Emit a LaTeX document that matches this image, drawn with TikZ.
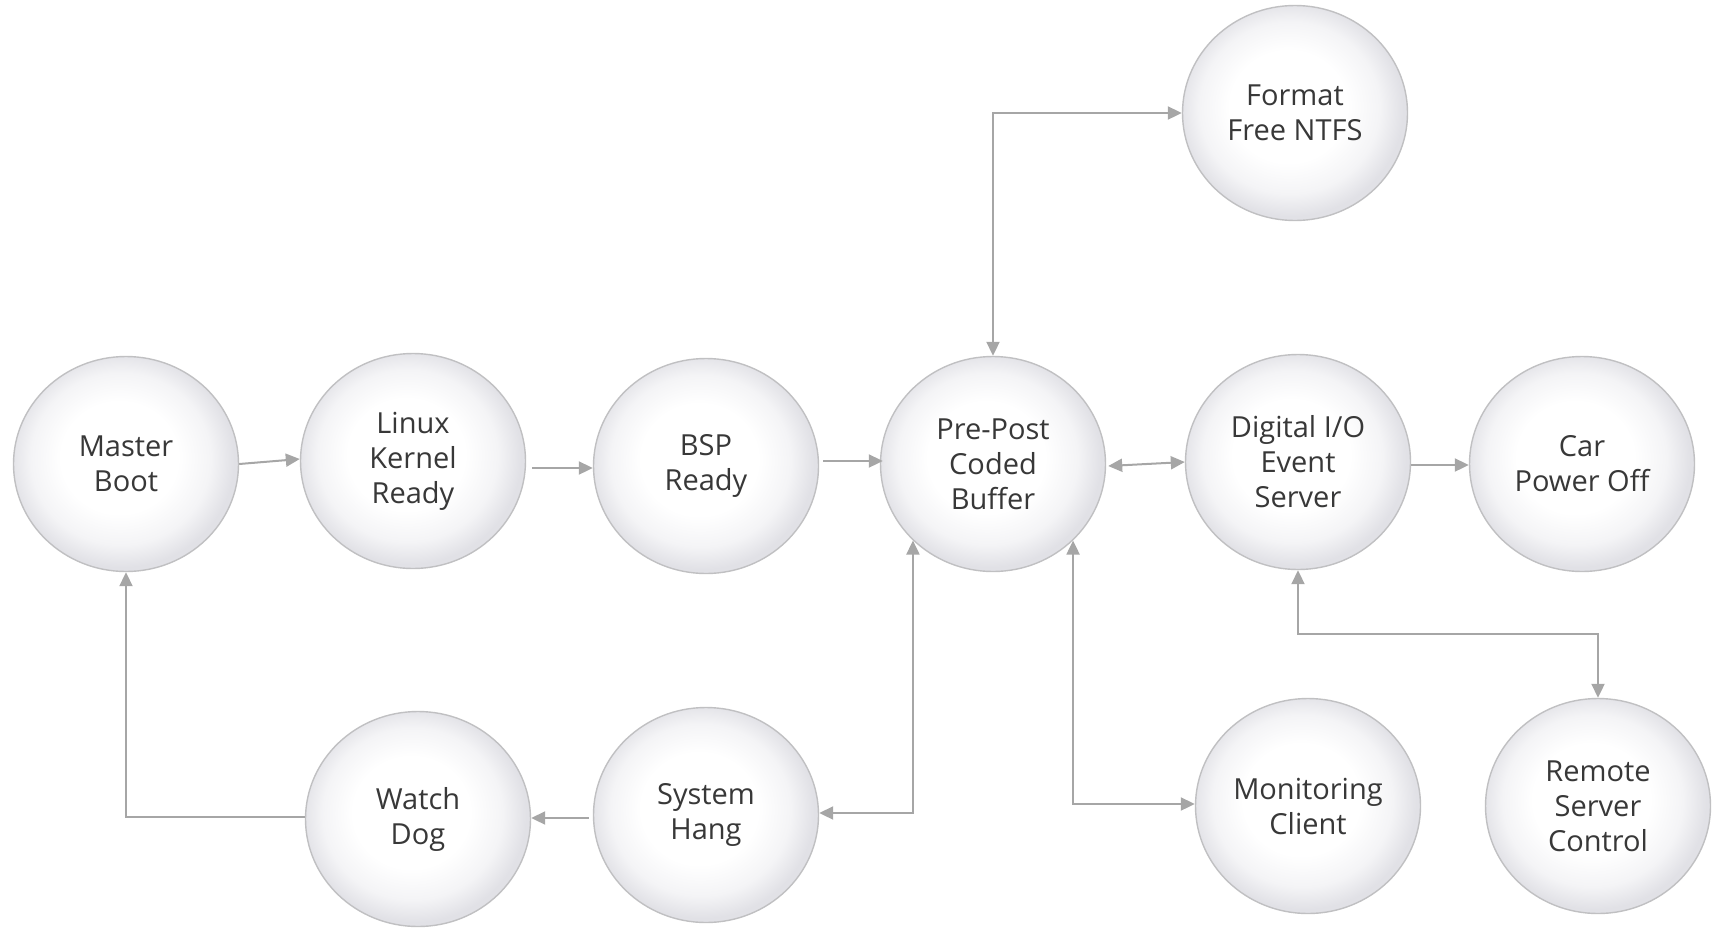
\documentclass[tikz,border=0pt]{standalone}
\usepackage{fontspec}
\setmainfont{Open Sans}
\usetikzlibrary{shapes.geometric,arrows.meta,calc}
\definecolor{bubedge}{HTML}{C0C0C2}
\definecolor{bubgray}{HTML}{E1E1E6}
\definecolor{bubmid}{HTML}{F4F4F6}
\definecolor{linegray}{HTML}{A6A6A6}
\definecolor{txtgray}{HTML}{383838}
\pgfdeclareradialshading{bubble}{\pgfpoint{-2bp}{2bp}}{color(0bp)=(white); color(13bp)=(white); color(20bp)=(bubmid); color(25bp)=(bubgray); color(50bp)=(bubgray)}
\tikzset{
  bub/.style={ellipse, draw=bubedge, line width=1.4pt, shading=bubble,
    minimum width=225pt, minimum height=215pt, inner sep=0pt,
    align=center, text=txtgray,
    font=\fontsize{29}{35}\selectfont},
  arr/.style={draw=linegray, line width=2pt, -{Triangle[length=14pt,width=13pt]}},
  darr/.style={draw=linegray, line width=2pt, {Triangle[length=14pt,width=13pt]}-{Triangle[length=14pt,width=13pt]}}
}
\begin{document}
\begin{tikzpicture}[x=1pt,y=-1pt]
\useasboundingbox (0,0) rectangle (1713,927);
\node[bub] (mb)  at (126,464)  {Master\\Boot};
\node[bub] (lk)  at (413,461)  {Linux\\Kernel\\Ready};
\node[bub] (bsp) at (706,466)  {BSP\\Ready};
\node[bub] (pp)  at (993,464)  {Pre-Post\\Coded\\Buffer};
\node[bub] (dio) at (1298,462) {Digital I/O\\Event\\Server};
\node[bub] (car) at (1582,464) {Car\\Power Off};
\node[bub] (fmt) at (1295,113) {Format\\Free NTFS};
\node[bub] (wd)  at (418,819)  {Watch\\Dog};
\node[bub] (sh)  at (706,815)  {System\\Hang};
\node[bub] (mon) at (1308,806) {Monitoring\\Client};
\node[bub] (rsc) at (1598,806) {Remote\\Server\\Control};

\draw[arr] (mb.east) -- (lk.west |- 0,459);
\draw[arr] ($(lk.east)+(6,7)$) -- ($(bsp.west)+(0,2)$);
\draw[arr] ($(bsp.east)+(4,-5)$) -- ($(pp.west)+(3,-3)$);
\draw[darr] ($(pp.east)+(2,2)$) -- ($(dio.west)+(0,0)$);
\draw[arr] ($(dio.east)+(0,3)$) -- ($(car.west)+(0,1)$);
\draw[darr] (pp.north) |- (fmt.west);
\coordinate (dr) at ($(dio.south)+(0,64)$);
\draw[darr] (dio.south) -- (dr) -| (rsc.north);
\draw[darr] (pp.south west) |- ($(sh.east)+(0,-2)$);
\draw[darr] (pp.south east) |- ($(mon.west)+(0,-2)$);
\draw[arr] ($(sh.west)+(-4,3)$) -- ($(wd.east)+(0,-1)$);
\draw[arr] ($(wd.west)+(0,-2)$) -| (mb.south);
\end{tikzpicture}
\end{document}
